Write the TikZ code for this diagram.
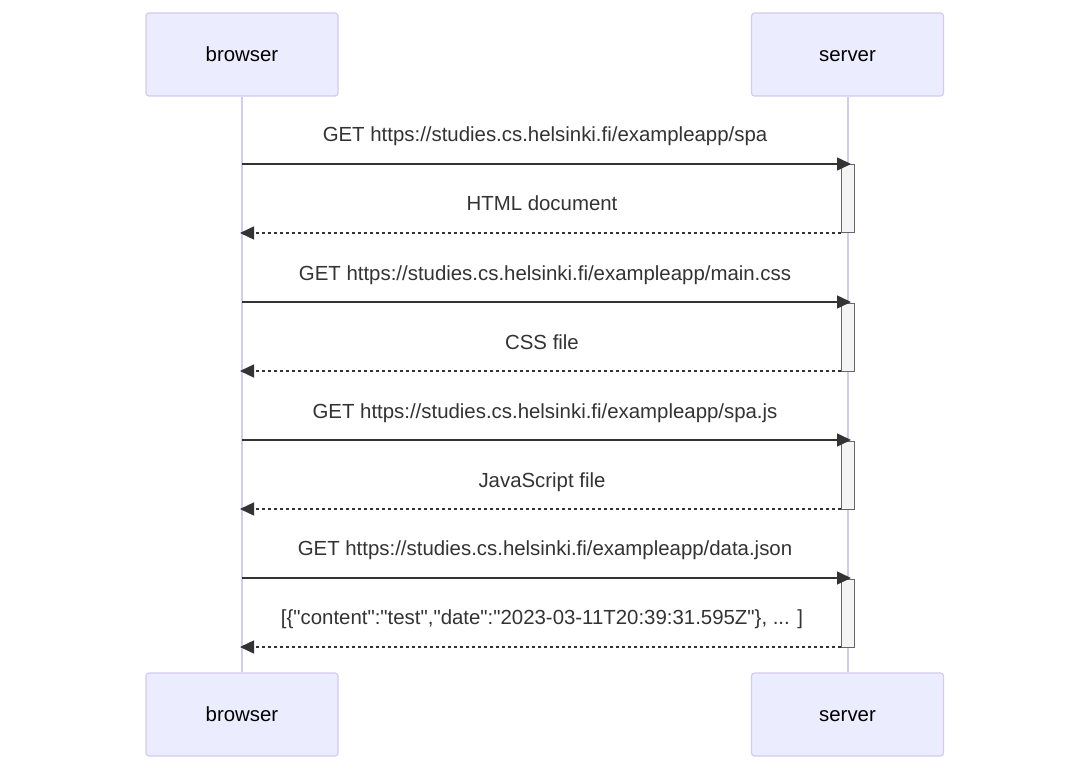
\documentclass[tikz,border=0pt]{standalone}
\usepackage{fontspec}
\setmainfont{Liberation Sans}[Ligatures=TeXOff]
\usetikzlibrary{arrows.meta}
\definecolor{actfill}{HTML}{ECECFF}
\definecolor{actline}{HTML}{D4CAF2}
\definecolor{txt}{HTML}{333333}
\definecolor{actbox}{HTML}{F4F4F4}
\definecolor{actboxline}{HTML}{666666}
\tikzset{
  actor/.style={draw=actline, line width=1.2pt, fill=actfill, rounded corners=3pt,
    minimum width=192pt, minimum height=83pt, inner sep=0pt},
  actlbl/.style={anchor=base, inner sep=0pt, text=black, font=\fontsize{20.4}{24}\selectfont},
  life/.style={draw=actline, line width=2pt},
  activ/.style={draw=actboxline, line width=1pt, fill=actbox, minimum width=13pt,
    minimum height=68pt, inner sep=0pt},
  msg/.style={draw=txt, line width=1.5pt, -{Triangle[length=14pt,width=13pt]}},
  ret/.style={msg, dash pattern=on 3pt off 3pt},
  lbl/.style={anchor=base, text=txt, font=\fontsize{20.4}{24}\selectfont, inner sep=0pt},
}
\begin{document}
\begin{tikzpicture}[x=1pt,y=-1pt]
\useasboundingbox[fill=white] (0,0) rectangle (1090,770);
\node[actor] (bt) at (242,54.5) {};
\node[actor] (st) at (847.5,54.5) {};
\node[actor] (bb) at (242,714.5) {};
\node[actor] (sb) at (847.5,714.5) {};
\node[actlbl] (btl) at (242,61.5) {browser};
\node[actlbl] (stl) at (847.5,61.5) {server};
\node[actlbl] (bbl) at (242,721.5) {browser};
\node[actlbl] (sbl) at (847.5,721.5) {server};
\draw[life] (bt.south) -- (bb.north);
\draw[life] (st.south) -- (sb.north);
% activations
\node[activ] (a1) at (847.5,199) {};
\node[activ] (a2) at (847.5,337) {};
\node[activ] (a3) at (847.5,475) {};
\node[activ] (a4) at (847.5,613) {};
% message endpoints
\foreach \i/\y in {1/164,2/302,3/440,4/578}{
  \coordinate (rq\i b) at (242,\y);
  \coordinate (rq\i s) at (851,\y);
}
\foreach \i/\y in {1/233,2/371,3/509,4/647}{
  \coordinate (rs\i s) at (841,\y);
  \coordinate (rs\i b) at (240,\y);
}
\draw[msg] (rq1b) -- (rq1s);
\draw[ret] (rs1s) -- (rs1b);
\draw[msg] (rq2b) -- (rq2s);
\draw[ret] (rs2s) -- (rs2b);
\draw[msg] (rq3b) -- (rq3s);
\draw[ret] (rs3s) -- (rs3b);
\draw[msg] (rq4b) -- (rq4s);
\draw[ret] (rs4s) -- (rs4b);
% labels
\node[lbl] (l1) at (545,142) {GET https://studies.cs.helsinki.fi/exampleapp/spa};
\node[lbl] (l2) at (542,211) {HTML document};
\node[lbl] (l3) at (545,280) {GET https://studies.cs.helsinki.fi/exampleapp/main.css};
\node[lbl] (l4) at (542,349) {CSS file};
\node[lbl] (l5) at (545,418) {GET https://studies.cs.helsinki.fi/exampleapp/spa.js};
\node[lbl] (l6) at (542,487) {JavaScript file};
\node[lbl] (l7) at (545,555) {GET https://studies.cs.helsinki.fi/exampleapp/data.json};
\node[lbl] (l8) at (542,624) {[\{"content":"test","date":"2023-03-11T20:39:31.595Z"\}, ... ]};
\end{tikzpicture}
\end{document}
